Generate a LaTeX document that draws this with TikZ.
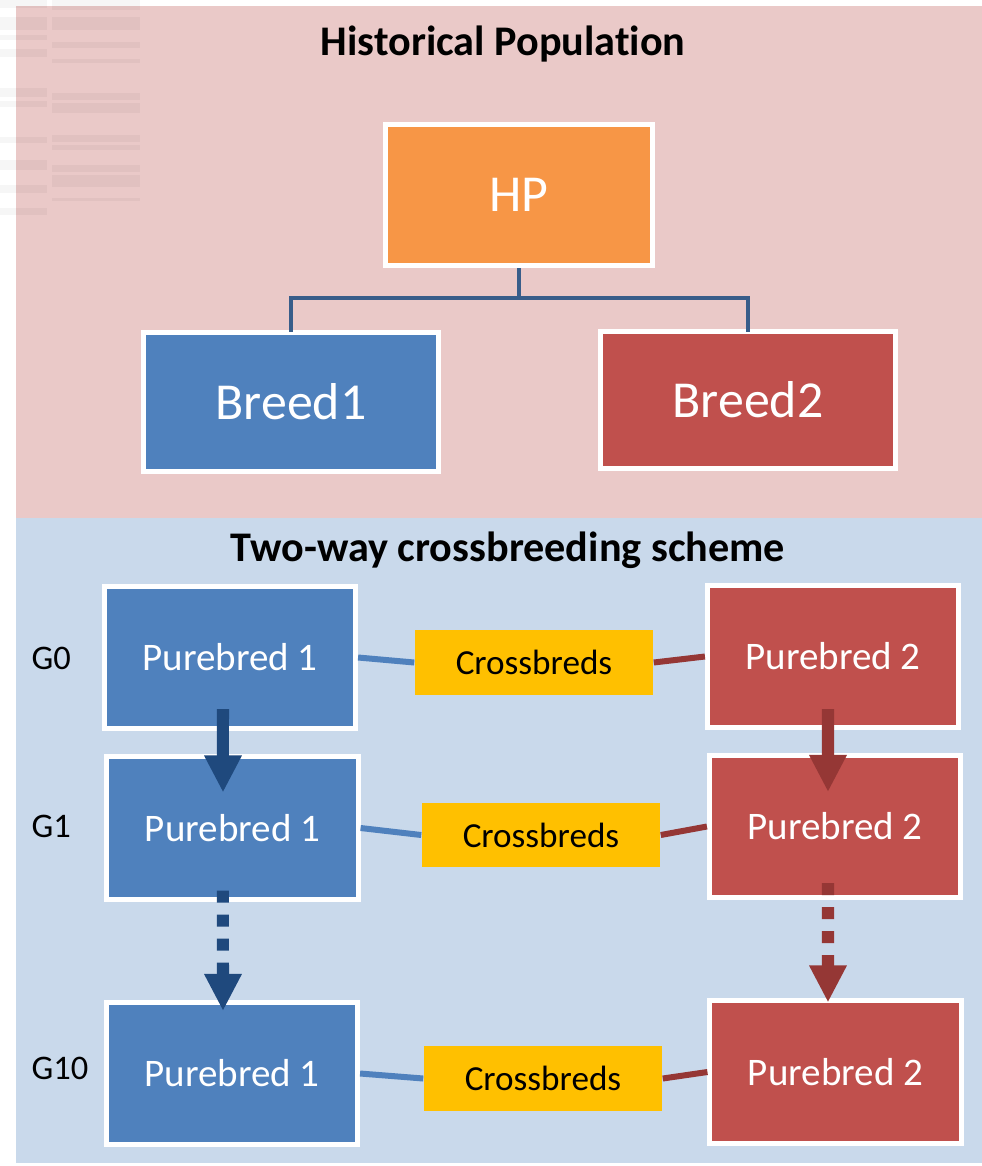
\documentclass[tikz,border=0pt]{standalone}
\usepackage{fontspec}
\setmainfont{Carlito}[Ligatures=NoCommon]
\usetikzlibrary{arrows.meta,positioning}

\definecolor{pinkbg}{RGB}{234,201,200}
\definecolor{bluebg}{RGB}{201,217,235}
\definecolor{hporange}{RGB}{247,150,70}
\definecolor{breedblue}{RGB}{79,129,189}
\definecolor{breedred}{RGB}{192,80,77}
\definecolor{crossyellow}{RGB}{255,192,0}
\definecolor{darkblue}{RGB}{31,73,125}
\definecolor{darkred}{RGB}{149,55,53}
\definecolor{treeblue}{RGB}{56,93,138}

\tikzset{
  bigbox/.style={draw=white,line width=0.05cm,text=white,minimum width=2.51cm,minimum height=1.42cm,inner sep=0pt},
  pureone/.style={bigbox,fill=breedblue,font=\fontsize{11.1}{13}\selectfont},
  puretwo/.style={bigbox,fill=breedred,font=\fontsize{11.1}{13}\selectfont},
  crossbox/.style={fill=crossyellow,minimum width=2.38cm,minimum height=0.65cm,inner sep=0pt,font=\fontsize{10}{12}\selectfont},
  genlabel/.style={anchor=west,inner sep=0pt,font=\fontsize{9.8}{12}\selectfont},
  titletext/.style={font=\fontsize{12}{14}\selectfont\bfseries},
  bigarrow/.style={line width=0.12cm,-{Triangle[width=0.35cm,length=0.37cm]}},
  dotarrow/.style={bigarrow,dash pattern=on 0.12cm off 0.12cm},
  link/.style={line width=0.06cm}
}

\begin{document}
\begin{tikzpicture}[x=0.01cm,y=-0.01cm]
    \useasboundingbox (0,0) rectangle (982,1166);
    % Backgrounds
    \fill[pinkbg] (16,6) rectangle (982,518);
    \fill[bluebg] (16,518) rectangle (982,1163);
    % Faint marks top left
    \foreach \ya/\yb in {0/8,17/30,35/40,49/57,88/97,101/107,137/143,160/170,185/193,208/215}
      \fill[black,opacity=0.035] (0,\ya) rectangle (47,\yb);
    \foreach \ya/\yb in {0/10,17/30,42/48,59/63,93/100,103/113,135/142,145/150,165/172,175/187,198/201}
      \fill[black,opacity=0.035] (52,\ya) rectangle (140,\yb);

    % Historical population
    \node[titletext] (histtitle) at (503,44) {Historical Population};
    \node[bigbox,fill=hporange,minimum width=2.67cm,minimum height=1.41cm,font=\fontsize{14.75}{17}\selectfont] (hp) at (519,195) {HP};
    \node[bigbox,fill=breedblue,minimum width=2.95cm,minimum height=1.39cm,font=\fontsize{14.75}{17}\selectfont] (breed1) at (291,402) {Breed1};
    \node[bigbox,fill=breedred,minimum width=2.95cm,minimum height=1.36cm,font=\fontsize{14.75}{17}\selectfont] (breed2) at (748,400) {Breed2};
    \coordinate (fork) at (519,298);
    \draw[treeblue,line width=0.045cm] (hp.south) -- (fork) -| ([yshift=-0.025cm]breed1.north);
    \draw[treeblue,line width=0.045cm] (fork) -| ([yshift=-0.025cm]breed2.north);

    % Two-way crossbreeding scheme
    \node[titletext] (crosstitle) at (508,550) {Two-way crossbreeding scheme};

    % G0
    \node[genlabel] (g0) at (31,658) {G0};
    \node[pureone] (pb1a) at (230,657.5) {Purebred 1};
    \node[crossbox] (cba) at (534,662.5) {Crossbreds};
    \node[puretwo] (pb2a) at (833,656.5) {Purebred 2};

    % G1
    \node[genlabel] (g1) at (31,826) {G1};
    \node[pureone] (pb1b) at (232.5,828) {Purebred 1};
    \node[crossbox,minimum height=0.64cm] (cbb) at (541,835) {Crossbreds};
    \node[puretwo] (pb2b) at (835,826.5) {Purebred 2};

    % G10
    \node[genlabel] (g10) at (31,1068) {G10};
    \node[pureone] (pb1c) at (232,1073.5) {Purebred 1};
    \node[crossbox] (cbc) at (543,1078.5) {Crossbreds};
    \node[puretwo] (pb2c) at (835.5,1072) {Purebred 2};

    % Links to crossbreds
    \draw[link,breedblue] (pb1a.east) -- (cba.west);
    \draw[link,darkred] (cba.east) -- (pb2a.west);
    \draw[link,breedblue] (pb1b.east) -- (cbb.west);
    \draw[link,darkred] (cbb.east) -- (pb2b.west);
    \draw[link,breedblue] (pb1c.east) -- (cbc.west);
    \draw[link,darkred] (cbc.east) -- (pb2c.west);

    % Generations
    \draw[bigarrow,darkblue] ([xshift=-0.07cm,yshift=0.22cm]pb1a.south) -- ([xshift=-0.095cm,yshift=-0.38cm]pb1b.north);
    \draw[bigarrow,darkred] ([xshift=-0.05cm,yshift=0.21cm]pb2a.south) -- ([xshift=-0.07cm,yshift=-0.39cm]pb2b.north);
    \draw[dotarrow,darkblue] ([xshift=-0.095cm,yshift=0.11cm]pb1b.south) -- ([xshift=-0.09cm,yshift=-0.11cm]pb1c.north);
    \draw[dotarrow,darkred] ([xshift=-0.07cm,yshift=0.17cm]pb2b.south) -- ([xshift=-0.075cm,yshift=-0.04cm]pb2c.north);
\end{tikzpicture}
\end{document}
